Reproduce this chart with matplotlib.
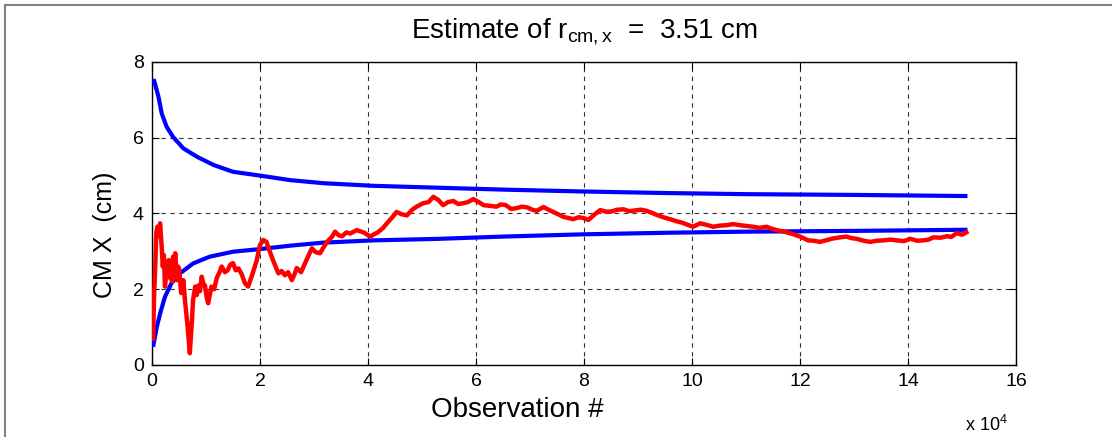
import matplotlib
matplotlib.use("Agg")
import matplotlib.pyplot as plt
from matplotlib.lines import Line2D

plt.rcParams["font.family"] = ["Liberation Sans", "DejaVu Sans"]
plt.rcParams["mathtext.fontset"] = "custom"
plt.rcParams["mathtext.rm"] = "Liberation Sans"
plt.rcParams["mathtext.it"] = "Liberation Sans"

# observation number in units of 1e4, CM x estimate in cm
red_x = [0.02, 0.04, 0.06, 0.08, 0.10, 0.12, 0.15, 0.18, 0.20, 0.22, 0.24, 0.27,
         0.31, 0.33, 0.35, 0.37, 0.39, 0.41, 0.43, 0.46, 0.48, 0.50, 0.54, 0.58,
         0.61, 0.66, 0.70, 0.74, 0.76, 0.80, 0.83, 0.86, 0.89, 0.92, 0.95, 0.98,
         1.01, 1.04, 1.10, 1.15, 1.20, 1.25, 1.29, 1.35, 1.40, 1.45, 1.50, 1.55,
         1.60, 1.66, 1.72, 1.78, 1.86, 1.94, 2.00, 2.06, 2.12, 2.18, 2.24, 2.34,
         2.40, 2.46, 2.52, 2.59, 2.64, 2.68, 2.76, 2.86, 2.96, 3.03, 3.11, 3.24,
         3.33, 3.39, 3.46, 3.52, 3.60, 3.67, 3.79, 3.92, 4.04, 4.11, 4.18, 4.28,
         4.35, 4.45, 4.53, 4.62, 4.72, 4.82, 4.90, 5.02, 5.12, 5.21, 5.30, 5.39,
         5.48, 5.58, 5.67, 5.76, 5.85, 5.95, 6.05, 6.14, 6.26, 6.38, 6.46, 6.55,
         6.65, 6.75, 6.85, 6.95, 7.04, 7.12, 7.25, 7.34, 7.43, 7.52, 7.62, 7.71,
         7.80, 7.90, 7.99, 8.08, 8.20, 8.30, 8.40, 8.50, 8.62, 8.73, 8.84, 8.95,
         9.05, 9.16, 9.25, 9.35, 9.47, 9.59, 9.70, 9.83, 9.92, 10.02, 10.15, 10.27,
         10.39, 10.52, 10.64, 10.76, 10.89, 11.01, 11.13, 11.25, 11.38, 11.47,
         11.57, 11.70, 11.81, 11.90, 12.00, 12.15, 12.25, 12.37, 12.50, 12.61,
         12.74, 12.86, 12.95, 13.05, 13.18, 13.30, 13.42, 13.55, 13.67, 13.79,
         13.92, 14.05, 14.17, 14.28, 14.38, 14.47, 14.60, 14.72, 14.80, 14.90,
         15.00, 15.08]
red_y = [0.70, 1.90, 2.60, 3.50, 3.65, 3.40, 3.74, 3.10, 2.60, 2.90, 2.07, 2.50,
         2.77, 2.30, 2.60, 2.20, 2.86, 2.55, 2.95, 2.24, 2.60, 2.55, 1.90, 2.24,
         1.71, 1.01, 0.31, 1.19, 1.71, 2.07, 1.85, 2.10, 1.95, 2.33, 2.15, 2.10,
         1.80, 1.63, 2.07, 2.00, 2.30, 2.45, 2.60, 2.45, 2.50, 2.65, 2.69, 2.50,
         2.55, 2.40, 2.16, 2.07, 2.40, 2.77, 3.17, 3.30, 3.25, 3.00, 2.77, 2.42,
         2.48, 2.37, 2.45, 2.24, 2.40, 2.56, 2.45, 2.77, 3.08, 2.98, 2.95, 3.25,
         3.38, 3.52, 3.42, 3.40, 3.50, 3.47, 3.56, 3.50, 3.39, 3.45, 3.50, 3.62,
         3.74, 3.90, 4.04, 3.98, 3.95, 4.10, 4.18, 4.27, 4.30, 4.44, 4.36, 4.22,
         4.30, 4.33, 4.25, 4.27, 4.30, 4.38, 4.30, 4.22, 4.20, 4.18, 4.24, 4.22,
         4.12, 4.14, 4.18, 4.16, 4.10, 4.07, 4.17, 4.10, 4.04, 3.98, 3.91, 3.88,
         3.85, 3.90, 3.88, 3.83, 3.98, 4.09, 4.05, 4.05, 4.10, 4.11, 4.06, 4.08,
         4.10, 4.07, 4.02, 3.96, 3.90, 3.85, 3.80, 3.75, 3.70, 3.65, 3.74, 3.70,
         3.65, 3.68, 3.69, 3.72, 3.69, 3.67, 3.65, 3.62, 3.65, 3.60, 3.56, 3.52,
         3.48, 3.44, 3.39, 3.29, 3.28, 3.25, 3.30, 3.34, 3.37, 3.39, 3.35, 3.33,
         3.28, 3.25, 3.28, 3.29, 3.31, 3.29, 3.27, 3.33, 3.28, 3.29, 3.31, 3.37,
         3.36, 3.40, 3.38, 3.48, 3.44, 3.50]

upper_x = [0.03, 0.06, 0.12, 0.18, 0.27, 0.39, 0.58, 0.83, 1.14, 1.50, 2.00, 2.56,
           3.17, 4.10, 5.30, 6.50, 8.00, 9.50, 11.00, 13.00, 15.10]
upper_y = [7.55, 7.40, 7.08, 6.64, 6.29, 6.02, 5.72, 5.50, 5.28, 5.10, 5.00, 4.88,
           4.80, 4.73, 4.68, 4.63, 4.58, 4.54, 4.51, 4.49, 4.46]
lower_x = [0.02, 0.09, 0.15, 0.24, 0.36, 0.52, 0.76, 1.07, 1.50, 2.00, 2.56, 3.17,
           4.10, 5.30, 6.50, 8.00, 9.50, 11.00, 13.00, 15.10]
lower_y = [0.48, 1.01, 1.36, 1.80, 2.16, 2.42, 2.68, 2.86, 2.99, 3.06, 3.15, 3.23,
           3.29, 3.33, 3.39, 3.45, 3.49, 3.52, 3.54, 3.57]

x_ticks = list(range(0, 17, 2))
y_ticks = list(range(0, 9, 2))

fig = plt.figure(figsize=(11.12, 4.37), dpi=100)
ax = fig.add_axes([0.1367, 0.1648, 0.777, 0.6934])

ax.plot(upper_x, upper_y, color="#0000ff", lw=3.0, solid_capstyle="butt", zorder=3)
ax.plot(lower_x, lower_y, color="#0000ff", lw=3.0, solid_capstyle="butt", zorder=3)
ax.plot(red_x, red_y, color="#ff0000", lw=3.2, zorder=4)

ax.set_xlim(0, 16)
ax.set_ylim(0, 8)
ax.set_xticks(x_ticks)
ax.set_yticks(y_ticks)
ax.tick_params(direction="in", length=5, labelsize=14, top=True, right=True, pad=6)
ax.grid(True, color="0.2", linestyle=(0, (4, 4)), lw=0.8)
for s in ax.spines.values():
    s.set_linewidth(1.0)

ax.set_title(r"Estimate of r$_{\mathrm{cm,x}}$  =  3.51 cm", fontsize=20, pad=17)
ax.set_ylabel("CM X  (cm)", fontsize=18)
ax.set_xlabel("Observation #", fontsize=20)
ax.xaxis.set_label_coords(0.4225, -0.105)
ax.yaxis.set_label_coords(-0.04, 0.43)
fig.text(965 / 1112, 1 - 431 / 437, r"x 10$^{4}$", fontsize=13, va="baseline")

# grey frame along top and left edges
fig.add_artist(Line2D([5 / 1112, 1], [1 - 5 / 437, 1 - 5 / 437], color="0.5", lw=1.5))
fig.add_artist(Line2D([5 / 1112, 5 / 1112], [0, 1 - 5 / 437], color="0.5", lw=1.5))

fig.savefig("out.png", dpi=100)
